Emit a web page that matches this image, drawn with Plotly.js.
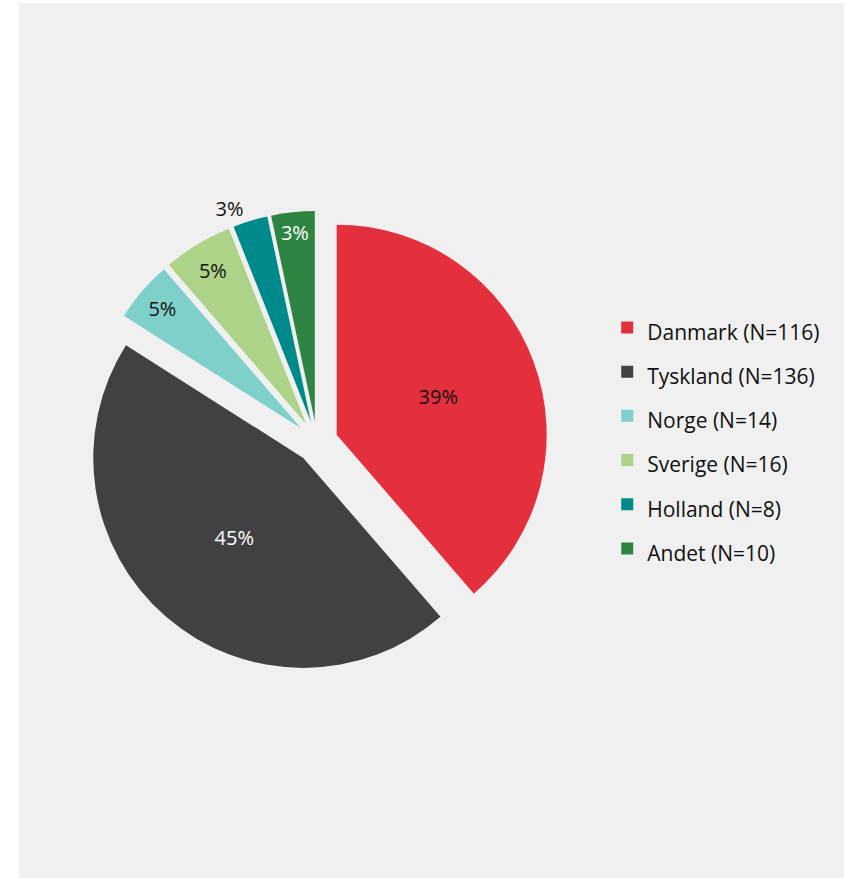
<!DOCTYPE html>
<html>
<head>
<meta charset="utf-8">
<script src="https://cdn.plot.ly/plotly-3.0.1.min.js"></script>
<style>
  html, body { margin: 0; padding: 0; background: #ffffff; }
  #chart { position: absolute; left: 19px; top: 3px; width: 825px; height: 875px; }
</style>
</head>
<body>
<div id="chart"></div>
<script>
const countries = ["Danmark", "Tyskland", "Norge", "Sverige", "Holland", "Andet"];
const counts = [116, 136, 14, 16, 8, 10];
const sliceColors = ["#e3303c", "#414042", "#7fcfcb", "#acd387", "#00898b", "#2e8543"];
const labelColors = ["#111111", "#ffffff", "#111111", "#111111", "#111111", "#ffffff"];
const labelPositions = ["inside", "inside", "inside", "inside", "outside", "inside"];

const legendLabels = countries.map((c, i) =>
  "<span style='font-size:21px'>" + c + " (N=" + counts[i] + ")</span>");

const trace = {
  type: "pie",
  labels: legendLabels,
  values: counts,
  sort: false,
  direction: "clockwise",
  rotation: 0,
  pull: 0.1,
  marker: { colors: sliceColors, line: { width: 0 } },
  texttemplate: "%{percent:.0%}",
  textposition: labelPositions,
  insidetextorientation: "horizontal",
  insidetextfont: { family: "Open Sans, sans-serif", size: 20, color: labelColors },
  outsidetextfont: { family: "Open Sans, sans-serif", size: 20, color: "#111111" },
  hoverinfo: "label+value+percent",
  domain: { x: [0.0812, 0.6412], y: [0.2343, 0.7623] }
};

const layout = {
  width: 825,
  height: 875,
  margin: { l: 0, r: 0, t: 0, b: 0 },
  paper_bgcolor: "#f0f0f0",
  plot_bgcolor: "#f0f0f0",
  font: { family: "Open Sans, sans-serif", color: "#111111" },
  uniformtext: { mode: "show", minsize: 20 },
  showlegend: true,
  legend: {
    x: 0.713,
    xanchor: "left",
    y: 0.5025,
    yanchor: "middle",
    font: { size: 31.7, color: "#111111" },
    bgcolor: "rgba(0,0,0,0)",
    traceorder: "normal"
  }
};

Plotly.newPlot("chart", [trace], layout, { displayModeBar: false, staticPlot: true });
</script>
</body>
</html>
